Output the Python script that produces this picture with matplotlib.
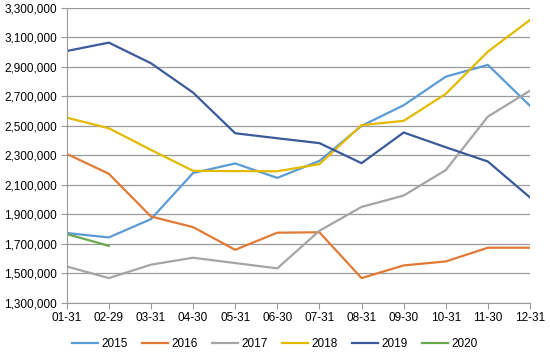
import matplotlib
matplotlib.use("Agg")
import matplotlib.pyplot as plt
from matplotlib.ticker import FuncFormatter

# ── Data ───────────────────────────────────────────────
months = ["01-31", "02-29", "03-31", "04-30", "05-31", "06-30",
          "07-31", "08-31", "09-30", "10-31", "11-30", "12-31"]

y2015 = [1773000, 1743000, 1867000, 2180000, 2245000, 2147000,
         2262000, 2500000, 2640000, 2834000, 2914000, 2636000]
y2016 = [2310000, 2175000, 1885000, 1813000, 1659000, 1775000,
         1778000, 1467000, 1553000, 1580000, 1673000, 1673000]
y2017 = [1546000, 1467000, 1558000, 1605000, 1569000, 1533000,
         1788000, 1950000, 2027000, 2200000, 2563000, 2739000]
y2018 = [2556000, 2484000, 2337000, 2195000, 2193000, 2192000,
         2240000, 2505000, 2534000, 2717000, 3004000, 3219000]
y2019 = [3008000, 3065000, 2925000, 2726000, 2450000, 2416000,
         2383000, 2247000, 2455000, 2355000, 2258000, 2014000]
y2020 = [1766000, 1686000]

series = [("2015", y2015, "#5B9BD5"),
          ("2016", y2016, "#E07A35"),
          ("2017", y2017, "#A5A5A5"),
          ("2018", y2018, "#E3BA00"),
          ("2019", y2019, "#3A5A9A"),
          ("2020", y2020, "#6AA84F")]

plt.rcParams["font.family"] = ["Liberation Sans", "DejaVu Sans"]

# ── Plot ───────────────────────────────────────────────
fig = plt.figure(figsize=(5.5, 3.54), dpi=100)
ax = fig.add_axes([66.7 / 550, 1 - 302.7 / 354, (530 - 66.7) / 550, (302.7 - 8) / 354])

for label, vals, col in series:
    ax.plot(range(len(vals)), vals, color=col, linewidth=1.6, label=label)

ax.set_xlim(0, len(months) - 1)
ax.set_ylim(1300000, 3300000)
ax.set_xticks(range(len(months)))
ax.set_xticklabels(months)
ax.set_yticks(range(1300000, 3300001, 200000))
ax.yaxis.set_major_formatter(FuncFormatter(lambda v, p: f"{int(v):,}"))

ax.grid(True, axis="y", color="#9A9A9A", linewidth=0.9)
ax.set_axisbelow(True)
for s in ["top", "right"]:
    ax.spines[s].set_visible(False)
ax.spines["left"].set_color("#9A9A9A")
ax.spines["bottom"].set_color("#9A9A9A")
ax.tick_params(axis="x", length=4, color="#9A9A9A", labelsize=8.5, pad=3)
ax.tick_params(axis="y", length=4, color="#9A9A9A", labelsize=8.5, pad=3)

fig.legend(loc="lower center", ncol=6, bbox_to_anchor=(0.5, -0.02),
           frameon=False, fontsize=8.5, handlelength=2.2, handletextpad=0.3,
           columnspacing=1.2)

plt.savefig("out.png", dpi=100)
